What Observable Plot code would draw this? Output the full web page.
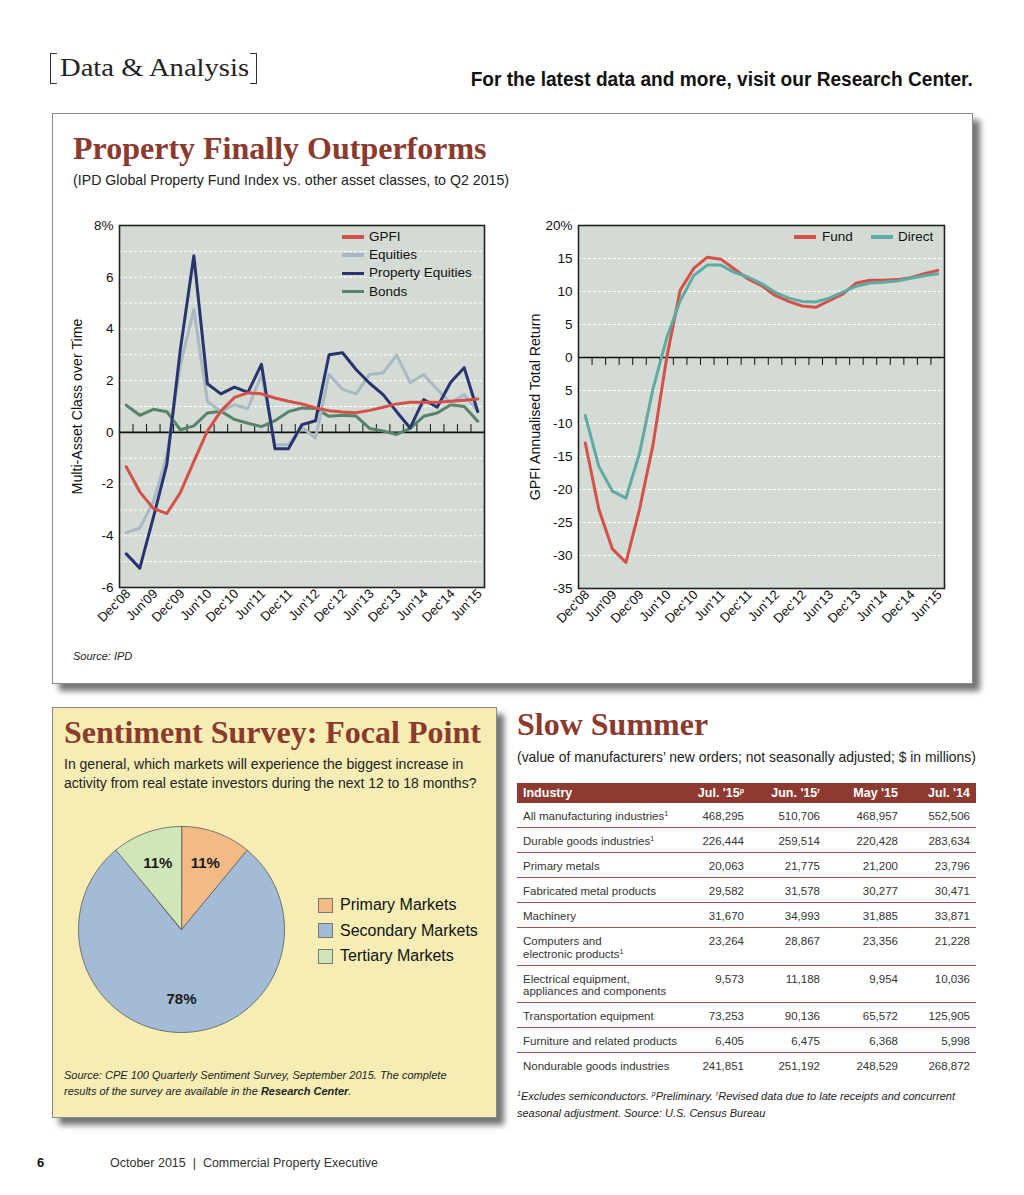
<!DOCTYPE html>
<html><head><meta charset="utf-8">
<script src="https://cdn.jsdelivr.net/npm/d3@7"></script>
<script src="https://cdn.jsdelivr.net/npm/@observablehq/plot@0.6"></script>
<style>
html,body{margin:0;padding:0}
body{width:1024px;height:1195px;background:#fff;position:relative;overflow:hidden;font-family:"Liberation Sans",Arial,sans-serif;color:#222}
.t{position:absolute;white-space:nowrap}
.box{position:absolute;box-sizing:border-box}
table.data{position:absolute;left:517px;top:783px;width:459px;border-collapse:collapse;font-size:11.5px;color:#333;table-layout:fixed}
table.data th{background:#8d3a30;color:#fff;font-weight:bold;font-size:12.5px;height:20px;padding:0 6px;line-height:20px}
table.data td{padding:7px 6px 4.5px 6px;line-height:12.5px;vertical-align:top;border-bottom:1px solid #a8524a}
table.data tr:last-child td{border-bottom:none}
table.data .l{text-align:left}
table.data .r{text-align:right}
sup{font-size:7px;line-height:0;vertical-align:4px}
</style></head><body>
<script>
// ---------- DATA ----------
const quarterLabels = ["Dec'08","Jun'09","Dec'09","Jun'10","Dec'10","Jun'11","Dec'11","Jun'12","Dec'12","Jun'13","Dec'13","Jun'14","Dec'14","Jun'15"];
const leftSeriesNames = ["GPFI","Equities","Property Equities","Bonds"];
const gpfi = [-1.33,-2.3,-2.94,-3.14,-2.33,-1.12,0.05,0.82,1.35,1.53,1.49,1.33,1.2,1.1,0.94,0.84,0.79,0.76,0.85,0.97,1.1,1.16,1.16,1.16,1.2,1.24,1.29];
const equities = [-3.88,-3.7,-2.7,-0.9,2.6,4.75,1.2,0.8,1.07,0.92,2.24,-0.48,-0.48,0.2,-0.22,2.24,1.66,1.49,2.24,2.3,2.99,1.92,2.24,1.66,1.14,1.46,0.82];
const propertyEquities = [-4.7,-5.25,-3.3,-1.25,3.2,6.83,1.88,1.49,1.75,1.55,2.63,-0.63,-0.63,0.3,0.45,3.0,3.08,2.43,1.9,1.46,0.8,0.17,1.27,0.97,1.94,2.5,0.8];
const bonds = [1.05,0.66,0.89,0.8,0.1,0.25,0.75,0.82,0.5,0.35,0.22,0.45,0.8,0.94,0.92,0.62,0.66,0.63,0.15,0.05,-0.08,0.15,0.62,0.75,1.07,1.0,0.43];
const leftYTicks = [8,6,4,2,0,-2,-4,-6];
const leftYTickLabels = ["8%","6","4","2","0","-2","-4","-6"];
const leftYLabel = "Multi-Asset Class over Time";

const rightSeriesNames = ["Fund","Direct"];
const fund = [-12.96,-23.0,-29.0,-31.06,-23.0,-13.2,-0.1,10.2,13.5,15.2,14.9,13.4,11.9,10.9,9.4,8.5,7.8,7.6,8.6,9.6,11.3,11.7,11.7,11.8,12.1,12.7,13.2];
const direct = [-8.8,-16.5,-20.25,-21.3,-14.5,-4.7,2.9,8.6,12.4,14.0,14.0,12.9,12.2,11.2,9.9,9.0,8.5,8.4,9.0,9.9,10.8,11.3,11.4,11.6,12.0,12.4,12.7];
const rightYTicks = [20,15,10,5,0,-5,-10,-15,-20,-25,-30,-35];
const rightYTickLabels = ["20%","15","10","5","0","5","-10","-15","-20","-25","-30","-35"];
const rightYLabel = "GPFI Annualised Total Return";

const marketNames = ["Primary Markets","Secondary Markets","Tertiary Markets"];
const marketShares = [11,78,11];
const marketLabels = ["11%","78%","11%"];

const industryNames = ["All manufacturing industries","Durable goods industries","Primary metals","Fabricated metal products","Machinery","Computers and<br>electronic products","Electrical equipment,<br>appliances and components","Transportation equipment","Furniture and related products","Nondurable goods industries"];
const industryNotes = ["1","1","","","","1","","","",""];
const columnHeaders = ["Jul. '15","Jun. '15","May '15","Jul. '14"];
const columnNotes = ["p","r","",""];
const jul15 = [468295,226444,20063,29582,31670,23264,9573,73253,6405,241851];
const jun15 = [510706,259514,21775,31578,34993,28867,11188,90136,6475,251192];
const may15 = [468957,220428,21200,30277,31885,23356,9954,65572,6368,248529];
const jul14 = [552506,283634,23796,30471,33871,21228,10036,125905,5998,268872];

// ---------- STYLE ----------
const titleRed = "#8b3a2e";
const plotBg = "#d3dbd4";
const leftColors = ["#d6504a","#a9b9c3","#28346e","#578469"];
const rightColors = ["#d6504a","#5eaaa4"];
const marketColors = ["#f2bb86","#a3bbd5","#d0e6b9"];

function txt(html, left, cy, css, lh) {
  const d = document.createElement("div");
  d.className = "t";
  d.innerHTML = html;
  d.style.left = left + "px";
  d.style.top = (cy - lh / 2) + "px";
  d.style.lineHeight = lh + "px";
  Object.assign(d.style, css || {});
  document.body.appendChild(d);
  return d;
}
function box(left, top, w, h, css) {
  const d = document.createElement("div");
  d.className = "box";
  Object.assign(d.style, {left: left + "px", top: top + "px", width: w + "px", height: h + "px"}, css || {});
  document.body.appendChild(d);
  return d;
}

// ---------- HEADER ----------
box(50, 53, 7, 31, {borderLeft: "1.5px solid #333", borderTop: "1.5px solid #333", borderBottom: "1.5px solid #333"});
box(250, 53, 7, 31, {borderRight: "1.5px solid #333", borderTop: "1.5px solid #333", borderBottom: "1.5px solid #333"});
txt("Data &amp; Analysis", 60, 67.5, {fontFamily: "'Liberation Serif',serif", fontSize: "26px", color: "#222", transform: "scaleX(1.1)", transformOrigin: "left center"}, 30);
const hdr = txt("For the latest data and more, visit our Research Center.", 0, 79, {fontWeight: "bold", fontSize: "20px", color: "#111", transform: "scaleX(0.955)", transformOrigin: "right center"}, 22);
hdr.style.left = ""; hdr.style.right = (1024 - 973) + "px";

// ---------- TOP PANEL ----------
box(52, 113, 921, 571, {border: "1px solid #8a8a8a", background: "#fff", boxShadow: "7px 7px 6px rgba(0,0,0,0.55)"});
txt("Property Finally Outperforms", 73, 148, {fontFamily: "'Liberation Serif',serif", fontWeight: "bold", fontSize: "32px", color: titleRed}, 36);
txt("(IPD Global Property Fund Index vs. other asset classes, to Q2 2015)", 73, 180, {fontSize: "14.2px", color: "#222"}, 16);
txt("Source: IPD", 73, 656, {fontSize: "11px", fontStyle: "italic", color: "#222"}, 14);

function linePlot(opts) {
  const n = opts.series[0].length;
  const marks = [
    Plot.frame({fill: plotBg, stroke: null}),
    Plot.gridY(opts.grid, {stroke: "#fff", strokeOpacity: 1, strokeDasharray: "3,2", strokeWidth: 1}),
    Plot.ruleY([0], {stroke: "#111", strokeWidth: 1.6}),
    Plot.ruleX(d3.range(n - 1), {x: d => d + 0.5, y1: 0, y2: opts.tickLen, stroke: "#111", strokeWidth: 1})
  ];
  opts.series.forEach((s, j) => {
    marks.push(Plot.line(s, {x: (d, i) => i, y: d => d, stroke: opts.colors[j], strokeWidth: 3, strokeLinejoin: "round"}));
  });
  marks.push(
    Plot.frame({stroke: "#222", strokeWidth: 1.6}),
    Plot.axisY({ticks: opts.yTicks, tickFormat: d => opts.yLabels[opts.yTicks.indexOf(d)], tickSize: 0, tickPadding: 6, label: null, fontSize: 13.5}),
    Plot.axisX({ticks: d3.range(0, n, 2), tickFormat: i => quarterLabels[i / 2], tickRotate: -45, tickSize: 0, tickPadding: 4, dx: 2, label: null, fontSize: 13}),
    Plot.text([opts.yTitle], {frameAnchor: "left", textAnchor: "middle", dx: opts.titleDx, rotate: -90, fontSize: 14.2, fill: "#111"})
  );
  const svg = Plot.plot({
    width: 440, height: 432,
    marginLeft: opts.marginLeft, marginRight: 16, marginTop: 10, marginBottom: opts.marginBottom,
    x: {domain: [-0.5, n - 0.5]},
    y: {domain: opts.yDomain},
    style: {fontFamily: "Liberation Sans, Arial, sans-serif", fontSize: "13px", color: "#111", background: "transparent", overflow: "visible"},
    marks
  });
  svg.style.position = "absolute";
  svg.style.left = opts.left + "px";
  svg.style.top = "215px";
  document.body.appendChild(svg);
}

linePlot({left: 60, marginLeft: 59, marginBottom: 60, yDomain: [-6, 8], grid: d3.range(-5, 8), tickLen: 0.3,
  series: [bonds, equities, propertyEquities, gpfi], colors: [leftColors[3], leftColors[1], leftColors[2], leftColors[0]],
  yTicks: leftYTicks, yLabels: leftYTickLabels, yTitle: leftYLabel, titleDx: -42});
linePlot({left: 520, marginLeft: 58, marginBottom: 59, yDomain: [-35, 20], grid: d3.range(-30, 20, 5), tickLen: -1.2,
  series: [fund, direct], colors: rightColors,
  yTicks: rightYTicks, yLabels: rightYTickLabels, yTitle: rightYLabel, titleDx: -43});

// legends
leftSeriesNames.forEach((name, i) => {
  const cy = 237 + i * 18.2;
  box(342, cy - 1.75, 22, 3.5, {background: leftColors[i]});
  txt(name, 369, cy, {fontSize: "13.5px", color: "#111"}, 16);
});
[[794, 822], [871, 898]].forEach(([sx, tx], i) => {
  box(sx, 237 - 1.75, 22, 3.5, {background: rightColors[i]});
  txt(rightSeriesNames[i], tx, 237, {fontSize: "13.5px", color: "#111"}, 16);
});

// ---------- SENTIMENT PANEL ----------
box(52, 707, 445, 411, {border: "1px solid #8a8a8a", background: "#f5edb4", boxShadow: "7px 7px 6px rgba(0,0,0,0.55)"});
txt("Sentiment Survey: Focal Point", 64, 732, {fontFamily: "'Liberation Serif',serif", fontWeight: "bold", fontSize: "32px", color: titleRed}, 36);
txt("In general, which markets will experience the biggest increase in<br>activity from real estate investors during the next 12 to 18 months?", 64, 764, {fontSize: "14px", color: "#222"}, 19);
txt("Source: CPE 100 Quarterly Sentiment Survey, September 2015. The complete<br>results of the survey are available in the <b>Research Center</b>.", 64, 1075, {fontSize: "11px", fontStyle: "italic", color: "#222"}, 16);

// pie geometry from shares
const arcs = d3.pie().sort(null).value(d => d)(marketShares);
const piePts = [];
arcs.forEach((a, k) => {
  const name = marketNames[k];
  piePts.push({name, x: 0, y: 0});
  const steps = Math.max(2, Math.ceil((a.endAngle - a.startAngle) / (Math.PI / 180)));
  for (let s = 0; s <= steps; s++) {
    const ang = a.startAngle + (a.endAngle - a.startAngle) * s / steps;
    piePts.push({name, x: Math.sin(ang), y: Math.cos(ang)});
  }
});
const pieLabelPts = arcs.map((a, k) => {
  const m = (a.startAngle + a.endAngle) / 2;
  return {label: marketLabels[k], x: 0.68 * Math.sin(m), y: 0.68 * Math.cos(m)};
});
const pie = Plot.plot({
  width: 210, height: 210, margin: 2,
  x: {domain: [-1, 1], axis: null}, y: {domain: [-1, 1], axis: null},
  color: {domain: marketNames, range: marketColors},
  style: {fontFamily: "Liberation Sans, Arial, sans-serif", background: "transparent", overflow: "visible"},
  marks: [
    Plot.line(piePts, {x: "x", y: "y", z: "name", fill: "name", stroke: "#555", strokeWidth: 0.8, curve: "linear-closed"}),
    Plot.text(pieLabelPts, {x: "x", y: "y", text: "label", fontSize: 15, fontWeight: "bold", fill: "#1a1a1a"})
  ]
});
pie.style.position = "absolute";
pie.style.left = (181 - 105) + "px";
pie.style.top = (929 - 105) + "px";
document.body.appendChild(pie);

marketNames.forEach((name, i) => {
  const cy = 905 + i * 25.5;
  box(318, cy - 7.5, 15, 15, {background: marketColors[i], border: "1px solid #777"});
  txt(name, 340, cy, {fontSize: "16px", color: "#111"}, 18);
});

// ---------- SLOW SUMMER TABLE ----------
txt("Slow Summer", 517, 724, {fontFamily: "'Liberation Serif',serif", fontWeight: "bold", fontSize: "32px", color: titleRed}, 36);
txt("(value of manufacturers’ new orders; not seasonally adjusted; $ in millions)", 517, 757, {fontSize: "13.9px", color: "#222"}, 16);

const fmt = d3.format(",");
const cols = [jul15, jun15, may15, jul14];
let html = '<colgroup><col style="width:173px"><col style="width:60px"><col style="width:76px"><col style="width:78px"><col style="width:72px"></colgroup>';
html += '<tr><th class="l">Industry</th>' + columnHeaders.map((h, j) => `<th class="r">${h}${columnNotes[j] ? "<sup>" + columnNotes[j] + "</sup>" : ""}</th>`).join("") + "</tr>";
industryNames.forEach((name, i) => {
  html += `<tr><td class="l">${name}${industryNotes[i] ? "<sup>" + industryNotes[i] + "</sup>" : ""}</td>` + cols.map(c => `<td class="r">${fmt(c[i])}</td>`).join("") + "</tr>";
});
const tbl = document.createElement("table");
tbl.className = "data";
tbl.innerHTML = html;
document.body.appendChild(tbl);

txt("<sup>1</sup>Excludes semiconductors. <sup>p</sup>Preliminary. <sup>r</sup>Revised data due to late receipts and concurrent<br>seasonal adjustment. Source: U.S. Census Bureau", 517, 1096, {fontSize: "11px", fontStyle: "italic", color: "#222"}, 17);

// ---------- FOOTER ----------
txt("6", 37, 1163, {fontSize: "13px", fontWeight: "bold", color: "#111"}, 16);
txt("October 2015 &nbsp;|&nbsp; Commercial Property Executive", 110, 1163, {fontSize: "12.5px", color: "#333"}, 16);
</script>
</body></html>
